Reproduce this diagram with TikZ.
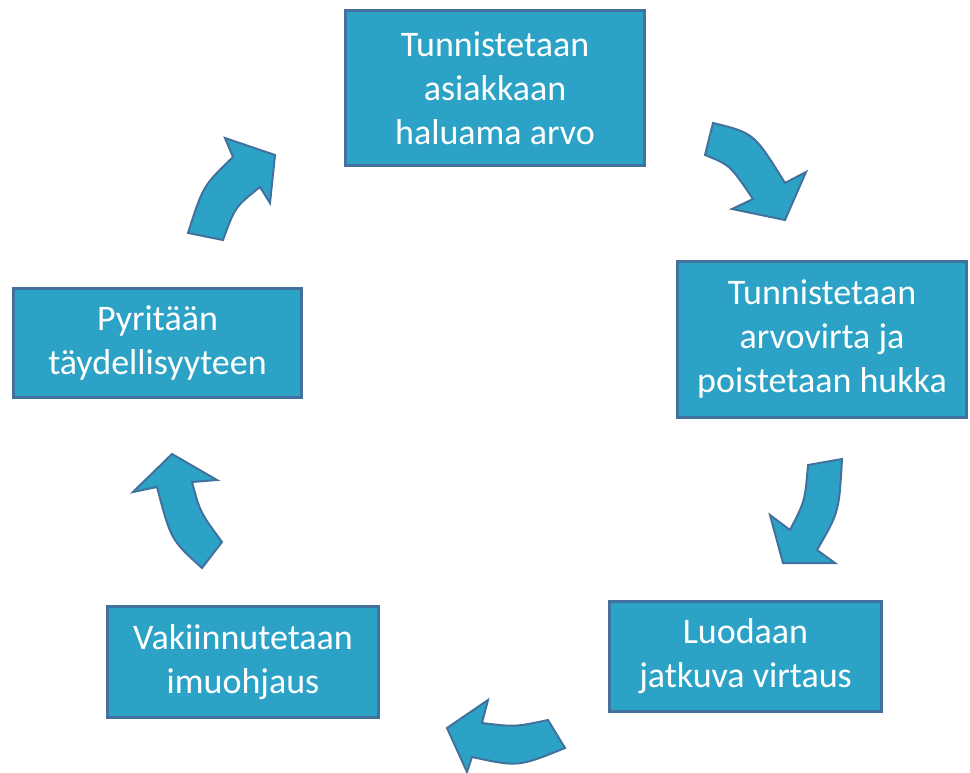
\documentclass[tikz,border=0pt]{standalone}
\usepackage{fontspec}
\setmainfont{Carlito}
\usepackage{tikz}
\usetikzlibrary{positioning}
\definecolor{boxfill}{RGB}{44,163,198}
\definecolor{boxline}{RGB}{65,113,156}

\begin{document}
\begin{tikzpicture}[
    x=1pt, y=-1pt,
    block/.style={
        rectangle,
        draw=boxline,
        line width=3pt,
        fill=boxfill,
        text=white,
        align=center,
        inner sep=0pt,
        font=\fontsize{36}{44}\selectfont
    },
    cyclearrow/.style={fill=boxfill, draw=boxline, line width=2pt, line join=miter}
 % block arrow style
]
    \useasboundingbox (0,0) rectangle (970,773);

    \node[block, minimum width=299pt, minimum height=155pt] (value) at (495,88) {Tunnistetaan\\asiakkaan\\haluama arvo};
    \node[block, minimum width=289pt, minimum height=156pt] (stream) at (822,339.5) {Tunnistetaan\\arvovirta ja\\poistetaan hukka};
    \node[block, minimum width=272pt, minimum height=110pt] (flow) at (745.5,656.5) {Luodaan\\jatkuva virtaus};
    \node[block, minimum width=271pt, minimum height=111pt] (pull) at (243,662) {Vakiinnutetaan\\imuohjaus};
    \node[block, minimum width=288pt, minimum height=109pt] (perfection) at (157.5,343) {Pyritään\\täydellisyyteen};

    % curved block arrows between the steps
    \draw[cyclearrow] (713,123) .. controls (754,133) .. (785,183) -- (806,172) -- (785,220)
        -- (732,209) -- (753,199) .. controls (730,165) .. (705,155) -- cycle;
    \draw[cyclearrow] (842,459) .. controls (839,512) .. (817,550) -- (835,563) -- (783,563)
        -- (770,515) -- (790,530) .. controls (805,501) .. (808,465) -- cycle;
    \draw[cyclearrow] (548,720) .. controls (515,727) .. (482,723) -- (488,700) -- (447,728)
        -- (467,772) -- (472,757) .. controls (518,767) .. (565,748) -- cycle;
    \draw[cyclearrow] (222,542) .. controls (200,512) .. (192,482) -- (217,480) -- (172,454)
        -- (133,492) -- (157,487) .. controls (171,540) .. (202,568) -- cycle;
    \draw[cyclearrow] (188,233) .. controls (203,186) .. (233,157) -- (225,138) -- (275,155)
        -- (270,203) -- (260,187) .. controls (235,207) .. (223,240) -- cycle;

\end{tikzpicture}
\end{document}
